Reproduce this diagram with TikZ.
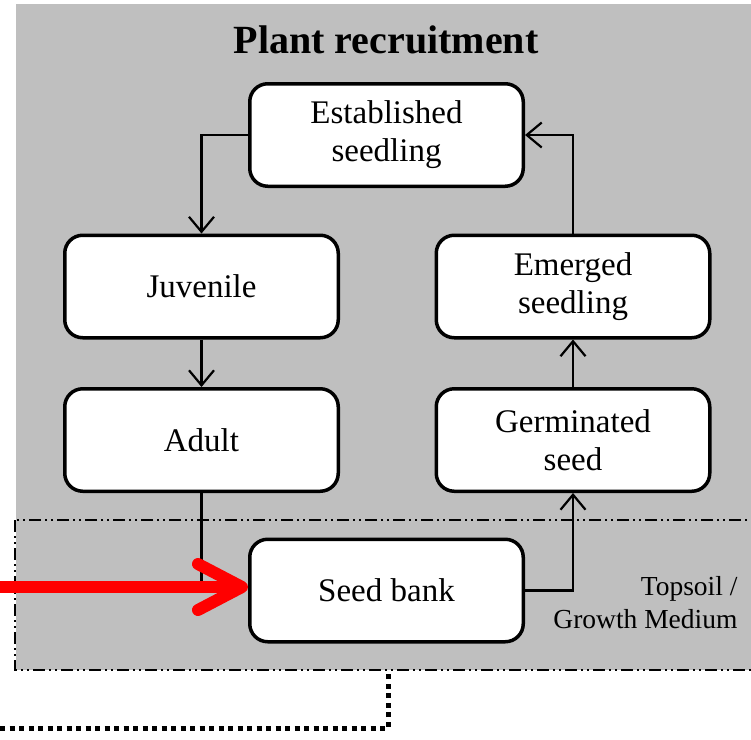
\documentclass[tikz,border=0pt]{standalone}
\usepackage{fontspec}
\setmainfont{Liberation Serif}
\usetikzlibrary{arrows.meta}
\definecolor{bggray}{RGB}{191,191,191}
\definecolor{arrowred}{RGB}{255,0,0}
\begin{document}
\begin{tikzpicture}[x=1pt,y=-1pt,
  stage/.style={draw=black, line width=3.5pt, fill=white, rounded corners=18pt,
    minimum width=273.5pt, minimum height=102.5pt, align=center, inner sep=0pt,
    font=\fontsize{33}{38}\selectfont},
  flow/.style={line width=2.2pt, -{Straight Barb[length=15pt 0 0,width=25pt 0 0]}},
  plainline/.style={line width=2.2pt},
  soilline/.style={line width=1.6pt, dash pattern=on 12pt off 4pt on 2pt off 4pt on 2pt off 4pt},
  outerline/.style={line width=5pt, dash pattern=on 5pt off 4.5pt},
  inputarrow/.style={line width=12pt, arrowred, -{Straight Barb[length=44pt 0 0,width=46pt 0 0,round]}}]
\useasboundingbox (0,0) rectangle (751,739);
\fill[bggray] (16,4) rectangle (760,670);
\node[font=\bfseries\fontsize{40}{46}\selectfont] (title) at (386,40) {Plant recruitment};
\node[stage] (est) at (386.5,135) {Established\\seedling};
\node[stage] (juv) at (201.5,286.5) {Juvenile};
\node[stage] (adult) at (201.5,440) {Adult};
\node[stage] (emer) at (573,286.5) {Emerged\\seedling};
\node[stage] (germ) at (573,440) {Germinated\\seed};
\node[stage] (seed) at (386.5,590.5) {Seed bank};
\node[align=right, anchor=east, font=\fontsize{27.5}{33}\selectfont] (soil) at (741,603) {Topsoil /\\Growth Medium};
\draw[soilline] (15,520) rectangle (760,670);
\coordinate (outerstart) at (0,728);
\coordinate (outercorner) at (388,728);
\coordinate (outerend) at (388,670);
\draw[outerline] (outerstart) -- (outercorner) -- (outerend);
\coordinate (join) at (201.5,582);
\coordinate (redstart) at (0,587);
\draw[flow] (est.west) -| (juv.north);
\draw[flow] (juv) -- (adult);
\draw[plainline] (adult.south) -- (join);
\draw[flow] (seed.east) -| (germ.south);
\draw[flow] (germ) -- (emer);
\draw[flow] (emer.north) |- (est.east);
\draw[inputarrow] (redstart) -- (seed.west |- redstart);
\end{tikzpicture}
\end{document}
